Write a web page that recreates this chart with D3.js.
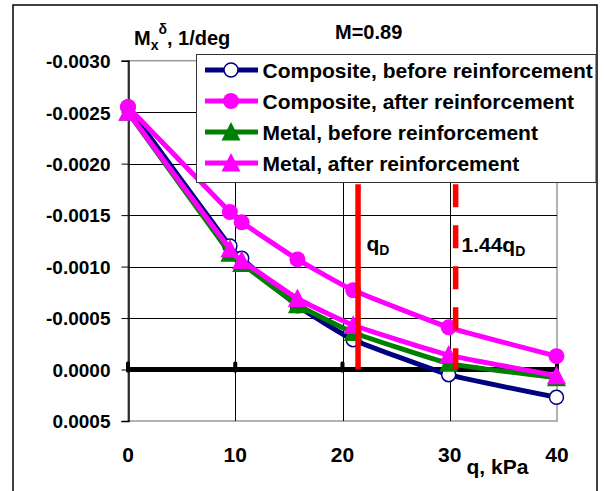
<!DOCTYPE html>
<html>
<head>
<meta charset="utf-8">
<script src="https://cdn.jsdelivr.net/npm/d3@7"></script>
<style>
  body { margin: 0; background: #fff; }
  svg text { font-family: "Liberation Sans", Arial, sans-serif; font-weight: bold; fill: #000; }
</style>
</head>
<body>
<svg id="chart" width="604" height="491"></svg>
<script>
// values
var qValues = [0, 9.5, 10.6, 15.8, 21.0, 29.9, 39.95];
var compositeBefore = [-0.00255, -0.00120, -0.00108, -0.00062, -0.00029, 0.00005, 0.00027];
var compositeAfter  = [-0.00255, -0.00153, -0.00143, -0.00107, -0.00077, -0.00041, -0.00013];
var metalBefore     = [-0.00250, -0.00113, -0.00103, -0.00063, -0.00036, -0.00006, 0.00008];
var metalAfter      = [-0.00250, -0.00117, -0.00106, -0.00069, -0.00043, -0.00014, 0.00006];
var seriesNames = ["Composite, before reinforcement", "Composite, after reinforcement",
                   "Metal, before reinforcement", "Metal, after reinforcement"];
var zeroQ = [0, 10, 20, 30, 40];
var yTicks = [-0.003, -0.0025, -0.002, -0.0015, -0.001, -0.0005, 0, 0.0005];
var xTicks = [0, 10, 20, 30, 40];
var limitQ = [21.45, 30.55];   // qD and 1.44qD
var limitTop = -0.0018;

var svg = d3.select("#chart");

var x = d3.scaleLinear().domain([0, 40]).range([128, 557]);
var y = d3.scaleLinear().domain([-0.003, 0.0005]).range([60.7, 421]);

// outer frame
svg.append("rect").attr("x", 13).attr("y", 5).attr("width", 584).attr("height", 520)
   .attr("fill", "none").attr("stroke", "#000").attr("stroke-width", 1.5);

// plot area border
svg.append("rect").attr("x", x(0)).attr("y", y(-0.003))
   .attr("width", x(40) - x(0)).attr("height", y(0.0005) - y(-0.003))
   .attr("fill", "none").attr("stroke", "#999").attr("stroke-width", 1.5);

// grid
var grid = svg.append("g").attr("stroke", "#000").attr("stroke-width", 1);
grid.selectAll("line.h").data(yTicks.slice(1, -1)).enter().append("line")
    .attr("x1", x(0)).attr("x2", x(40))
    .attr("y1", function(d) { return Math.round(y(d)) + 0.5; })
    .attr("y2", function(d) { return Math.round(y(d)) + 0.5; });
grid.selectAll("line.v").data([10, 20, 30]).enter().append("line")
    .attr("y1", y(-0.003)).attr("y2", y(0.0005))
    .attr("x1", function(d) { return Math.round(x(d)) + 0.5; })
    .attr("x2", function(d) { return Math.round(x(d)) + 0.5; });

// y axis
var yAxis = d3.axisLeft(y).tickValues(yTicks).tickSize(7).tickPadding(11)
    .tickFormat(function(d) { return d3.format(".4f")(d).replace("−", "-"); });
var gy = svg.append("g").attr("transform", "translate(" + (x(0) + 0.5) + ",0)").call(yAxis);
gy.select(".domain").attr("stroke", "#000").attr("stroke-width", 1.5);
gy.selectAll("text").style("font-size", "19px").attr("dy", "0.36em");

// x tick labels
svg.append("g").selectAll("text").data(xTicks).enter().append("text")
   .attr("x", function(d) { return x(d); }).attr("y", 461.5)
   .attr("text-anchor", "middle").style("font-size", "21px").text(function(d) { return d; });

// zero line series
svg.append("path").datum(zeroQ)
   .attr("d", d3.line().x(function(d) { return x(d); }).y(y(0)))
   .attr("stroke", "#000").attr("stroke-width", 5).attr("fill", "none");
svg.append("g").selectAll("rect").data(zeroQ).enter().append("rect")
   .attr("x", function(d) { return x(d) - 2; }).attr("y", y(0) - 8)
   .attr("width", 4).attr("height", 11).attr("rx", 1.5).attr("fill", "#000");

var series = [
  { name: seriesNames[0], values: compositeBefore, color: "#000080", marker: "openCircle" },
  { name: seriesNames[1], values: compositeAfter,  color: "#ff00ff", marker: "circle" },
  { name: seriesNames[2], values: metalBefore,     color: "#008000", marker: "triangle" },
  { name: seriesNames[3], values: metalAfter,      color: "#ff00ff", marker: "triangle" }
];

var line = d3.line()
    .x(function(d) { return x(d[0]); })
    .y(function(d) { return y(d[1]); })
    .curve(d3.curveCardinal.tension(0.6));

function drawMarker(g, type, color) {
  if (type === "openCircle") {
    g.append("circle").attr("r", 7).attr("fill", "#fff").attr("stroke", color).attr("stroke-width", 1.5);
  } else if (type === "circle") {
    g.append("circle").attr("r", 8).attr("fill", color);
  } else {
    g.append("path").attr("d", "M0,-10L9.5,8.5L-9.5,8.5Z").attr("fill", color);
  }
}

series.forEach(function(s) {
  var pts = qValues.map(function(q, i) { return [q, s.values[i]]; });
  svg.append("path").datum(pts).attr("d", line)
     .attr("stroke", s.color).attr("stroke-width", 5).attr("fill", "none")
     .attr("stroke-linejoin", "round");
  pts.forEach(function(p) {
    var g = svg.append("g").attr("transform", "translate(" + x(p[0]) + "," + y(p[1]) + ")");
    drawMarker(g, s.marker, s.color);
  });
});

// qD lines
svg.append("line").attr("x1", x(limitQ[0])).attr("x2", x(limitQ[0]))
   .attr("y1", y(limitTop)).attr("y2", y(0))
   .attr("stroke", "#ff0000").attr("stroke-width", 5.5);
svg.append("line").attr("x1", x(limitQ[1])).attr("x2", x(limitQ[1]))
   .attr("y1", y(limitTop)).attr("y2", y(0))
   .attr("stroke", "#ff0000").attr("stroke-width", 5.5).attr("stroke-dasharray", "23,18");

var t1 = svg.append("text").attr("x", 366.5).attr("y", 251).style("font-size", "21px");
t1.append("tspan").text("q");
t1.append("tspan").attr("dy", 4).style("font-size", "14px").text("D");
var t2 = svg.append("text").attr("x", 461.5).attr("y", 251.5).style("font-size", "21px");
t2.append("tspan").text("1.44q");
t2.append("tspan").attr("dy", 4).style("font-size", "14px").text("D");

// titles
var yt = svg.append("text").attr("x", 134).attr("y", 45).style("font-size", "20px");
yt.append("tspan").text("M");
yt.append("tspan").attr("dy", 5).style("font-size", "14px").text("x");
yt.append("tspan").attr("dy", -16).attr("dx", 0).style("font-size", "14px").text("δ");
yt.append("tspan").attr("dy", 11).text(", 1/deg");

svg.append("text").attr("x", 335).attr("y", 38.5).style("font-size", "20px").text("M=0.89");
svg.append("text").attr("x", 466.5).attr("y", 474).style("font-size", "21px").text("q, kPa");

// legend
var legend = svg.append("g");
legend.append("rect").attr("x", 196.5).attr("y", 54.5).attr("width", 399.5).attr("height", 128)
      .attr("fill", "#fff").attr("stroke", "#333").attr("stroke-width", 1);
var rowY = [70, 101, 132, 163];
series.forEach(function(s, i) {
  var g = legend.append("g").attr("transform", "translate(0," + rowY[i] + ")");
  g.append("line").attr("x1", 205).attr("x2", 258).attr("stroke", s.color).attr("stroke-width", 5);
  drawMarker(g.append("g").attr("transform", "translate(231,0)"), s.marker, s.color);
  g.append("text").attr("x", 262.5).attr("y", 7.5).style("font-size", "21px").text(s.name);
});
</script>
</body>
</html>
